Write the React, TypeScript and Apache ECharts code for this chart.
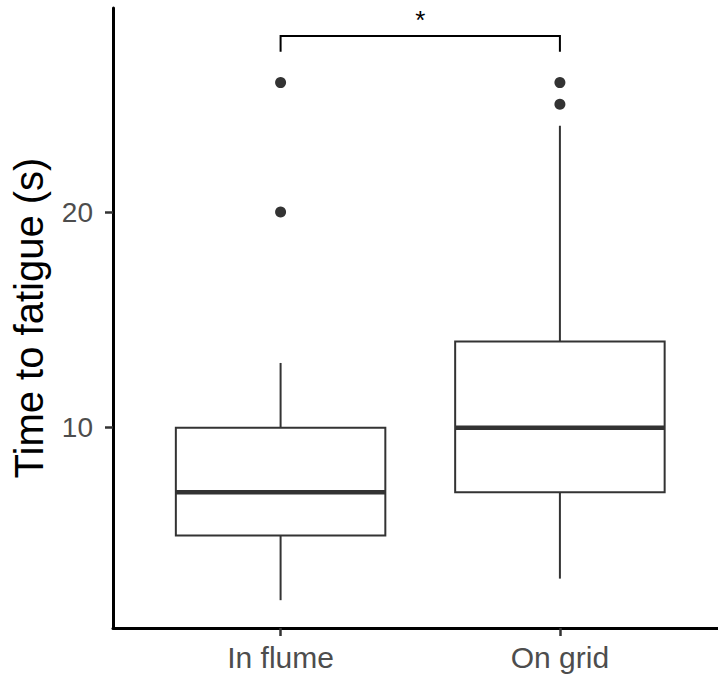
import React, { useEffect, useRef } from "react";
import * as echarts from "echarts";

// ---- data ----
const categories = ["In flume", "On grid"];
const whiskerLow = [2, 3];
const q1 = [5, 7];
const median = [7, 10];
const q3 = [10, 14];
const whiskerHigh = [13, 24];
const outlierGroup = [1, 1, 2, 2];
const outlierValues = [20, 26, 25, 26];
const yTicks = [10, 20];
const bracketFrom = 1;
const bracketTo = 2;
const bracketTop = 28.16;
const bracketTip = 27.43;
const bracketLabel = "*";
const bracketLabelY = 29.13;

const FONT = "'Liberation Sans', Arial, Helvetica, sans-serif";
const INK = "#333333";

export default function App() {
  const ref = useRef<HTMLDivElement>(null);
  useEffect(() => {
    if (!ref.current) return;
    const chart = echarts.init(ref.current, null, { renderer: "svg" });
    const boxData = categories.map((_, i) => [
      i + 1,
      whiskerLow[i],
      q1[i],
      median[i],
      q3[i],
      whiskerHigh[i],
    ]);
    const outlierData = outlierValues.map((v, i) => [outlierGroup[i], v]);
    const halfW = 0.375;
    chart.setOption({
      animation: false,
      backgroundColor: "#ffffff",
      grid: { left: 113, right: 0, top: 8, bottom: 49 },
      xAxis: {
        type: "value",
        min: 0.4,
        max: 2.566,
        splitLine: { show: false },
        axisLine: { show: true, lineStyle: { color: "#000", width: 3 } },
        axisTick: {
          show: true,
          customValues: [1, 2],
          length: 8,
          lineStyle: { color: INK, width: 2.5 },
        },
        axisLabel: {
          customValues: [1, 2],
          formatter: (v: number) => categories[Math.round(v) - 1] ?? "",
          fontSize: 30,
          color: "#4d4d4d",
          fontFamily: FONT,
          margin: 14,
        },
      },
      yAxis: {
        type: "value",
        min: 0.71,
        max: 29.46,
        splitLine: { show: false },
        axisLine: { show: true, lineStyle: { color: "#000", width: 3 } },
        axisTick: {
          show: true,
          customValues: yTicks,
          length: 8,
          lineStyle: { color: INK, width: 2.5 },
        },
        axisLabel: {
          customValues: yTicks,
          fontSize: 28,
          color: "#4d4d4d",
          fontFamily: FONT,
          margin: 20,
        },
        name: "Time to fatigue (s)",
        nameLocation: "middle",
        nameRotate: 90,
        nameGap: 64,
        nameTextStyle: { fontSize: 40, color: "#000", fontFamily: FONT },
      },
      series: [
        {
          type: "custom",
          data: boxData,
          encode: { x: 0, y: [1, 2, 3, 4, 5] },
          renderItem: (params: any, api: any) => {
            const x = api.value(0);
            const lo = api.value(1);
            const a = api.value(2);
            const m = api.value(3);
            const b = api.value(4);
            const hi = api.value(5);
            const pLo = api.coord([x, lo]);
            const pHi = api.coord([x, hi]);
            const pA = api.coord([x - halfW, a]);
            const pB = api.coord([x + halfW, b]);
            const pML = api.coord([x - halfW, m]);
            const pMR = api.coord([x + halfW, m]);
            return {
              type: "group",
              children: [
                {
                  type: "line",
                  shape: { x1: pLo[0], y1: pLo[1], x2: pLo[0], y2: pA[1] },
                  style: { stroke: INK, lineWidth: 2 },
                },
                {
                  type: "line",
                  shape: { x1: pHi[0], y1: pB[1], x2: pHi[0], y2: pHi[1] },
                  style: { stroke: INK, lineWidth: 2 },
                },
                {
                  type: "rect",
                  shape: {
                    x: pA[0],
                    y: pB[1],
                    width: pB[0] - pA[0],
                    height: pA[1] - pB[1],
                  },
                  style: { fill: "#ffffff", stroke: INK, lineWidth: 2 },
                },
                {
                  type: "line",
                  shape: { x1: pML[0], y1: pML[1], x2: pMR[0], y2: pMR[1] },
                  style: { stroke: INK, lineWidth: 4.5 },
                },
              ],
            };
          },
        },
        {
          type: "scatter",
          data: outlierData,
          symbol: "circle",
          symbolSize: 11,
          itemStyle: { color: INK, opacity: 1 },
        },
        {
          type: "custom",
          data: [[bracketFrom, bracketTo, bracketTop, bracketTip, bracketLabelY]],
          encode: { x: [0, 1], y: [2, 3, 4] },
          renderItem: (params: any, api: any) => {
            const x1 = api.value(0);
            const x2 = api.value(1);
            const top = api.value(2);
            const tip = api.value(3);
            const ly = api.value(4);
            const p1 = api.coord([x1, tip]);
            const p2 = api.coord([x1, top]);
            const p3 = api.coord([x2, top]);
            const p4 = api.coord([x2, tip]);
            const pl = api.coord([(x1 + x2) / 2, ly]);
            return {
              type: "group",
              children: [
                {
                  type: "polyline",
                  shape: { points: [p1, p2, p3, p4] },
                  style: { stroke: "#000", lineWidth: 2, fill: "none" },
                },
                {
                  type: "text",
                  style: {
                    text: bracketLabel,
                    x: pl[0],
                    y: pl[1] + 5,
                    fill: "#000",
                    fontSize: 26,
                    fontFamily: FONT,
                    align: "center",
                    verticalAlign: "middle",
                  },
                },
              ],
            };
          },
        },
      ],
    });
    return () => chart.dispose();
  }, []);
  return (
    <div
      ref={ref}
      style={{ position: "absolute", left: 0, top: 0, width: 718, height: 677 }}
    />
  );
}
